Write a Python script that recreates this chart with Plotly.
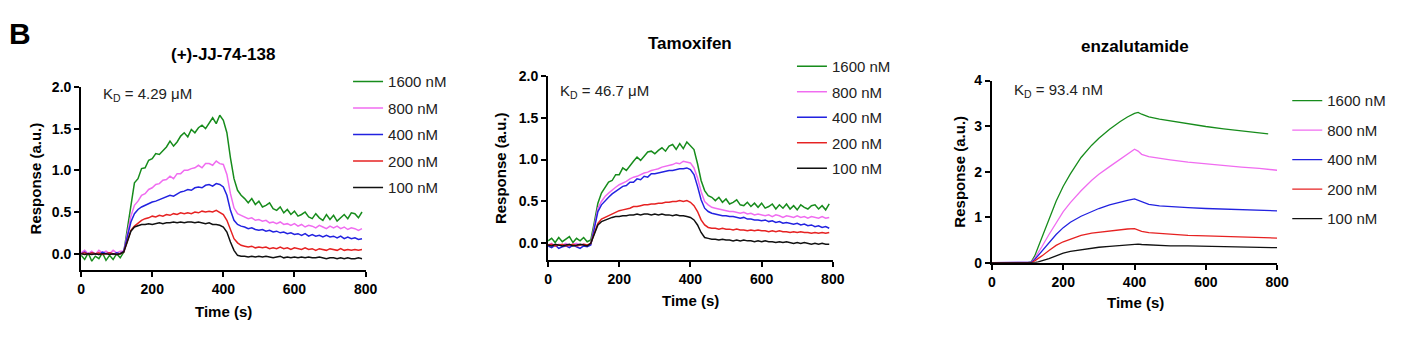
import plotly.graph_objects as go

# ---------------- data ----------------
time_noisy = list(range(0, 800, 10))          # s, panels 1 & 2
time_enza = [0, 100, 110, 120, 130, 140, 160, 180, 200, 220, 250, 280, 300, 330, 360,
             380, 400, 410, 420, 440, 470, 500, 550, 600, 650, 700, 750, 775, 800]

concs = ["1600 nM", "800 nM", "400 nM", "200 nM", "100 nM"]
colors = ["#178c1c", "#f06cf0", "#2222e0", "#e62222", "#111111"]

titles = ["(+)-JJ-74-138", "Tamoxifen", "enzalutamide"]
kd_labels = ["K<sub>D</sub> = 4.29 \u03bcM", "K<sub>D</sub> = 46.7 \u03bcM", "K<sub>D</sub> = 93.4 nM"]

# (+)-JJ-74-138
jj_1600 = [-0.02, -0.07, 0.01, -0.09, -0.03, -0.06, 0.01, -0.08, -0.02, -0.07,
           0.00, -0.05, 0.02, 0.30, 0.62, 0.85, 0.90, 1.02, 1.03, 1.12,
           1.14, 1.20, 1.19, 1.24, 1.28, 1.35, 1.29, 1.34, 1.41, 1.45,
           1.40, 1.49, 1.45, 1.51, 1.54, 1.50, 1.56, 1.63, 1.56, 1.66,
           1.60, 1.45, 1.15, 0.90, 0.76, 0.70, 0.66, 0.61, 0.66, 0.59,
           0.63, 0.56, 0.58, 0.61, 0.54, 0.52, 0.56, 0.49, 0.53, 0.47,
           0.51, 0.45, 0.47, 0.50, 0.44, 0.42, 0.48, 0.43, 0.40, 0.47,
           0.41, 0.46, 0.39, 0.43, 0.47, 0.42, 0.49, 0.48, 0.43, 0.50]
jj_800 = [0.01, 0.04, 0.00, 0.03, -0.01, 0.04, 0.01, 0.03, 0.00, 0.04,
          0.01, 0.03, 0.03, 0.22, 0.45, 0.58, 0.63, 0.70, 0.72, 0.77,
          0.79, 0.83, 0.84, 0.88, 0.89, 0.93, 0.90, 0.96, 0.96, 1.00,
          1.00, 1.02, 1.03, 1.06, 1.03, 1.08, 1.08, 1.06, 1.11, 1.08,
          1.07, 0.95, 0.72, 0.55, 0.48, 0.46, 0.44, 0.42, 0.43, 0.40,
          0.41, 0.39, 0.40, 0.37, 0.38, 0.36, 0.38, 0.35, 0.36, 0.34,
          0.36, 0.33, 0.35, 0.32, 0.34, 0.33, 0.31, 0.34, 0.32, 0.30,
          0.33, 0.31, 0.33, 0.30, 0.32, 0.29, 0.31, 0.30, 0.28, 0.30]
jj_400 = [0.00, 0.02, -0.01, 0.01, 0.00, -0.01, 0.02, 0.00, 0.01, -0.01,
          0.01, 0.00, 0.03, 0.20, 0.38, 0.48, 0.53, 0.56, 0.58, 0.60,
          0.62, 0.63, 0.65, 0.66, 0.68, 0.70, 0.69, 0.72, 0.74, 0.75,
          0.77, 0.76, 0.79, 0.80, 0.79, 0.82, 0.83, 0.81, 0.84, 0.83,
          0.80, 0.70, 0.52, 0.40, 0.35, 0.33, 0.32, 0.30, 0.31, 0.29,
          0.28, 0.29, 0.27, 0.28, 0.26, 0.27, 0.25, 0.26, 0.24, 0.25,
          0.23, 0.24, 0.22, 0.24, 0.21, 0.23, 0.21, 0.22, 0.20, 0.22,
          0.20, 0.21, 0.19, 0.21, 0.18, 0.20, 0.18, 0.19, 0.17, 0.18]
jj_200 = [0.00, 0.01, -0.01, 0.01, 0.00, 0.01, -0.01, 0.00, 0.01, 0.00,
          -0.01, 0.00, 0.02, 0.15, 0.28, 0.33, 0.37, 0.40, 0.42, 0.43,
          0.45, 0.44, 0.46, 0.45, 0.47, 0.46, 0.48, 0.47, 0.49, 0.48,
          0.49, 0.48, 0.50, 0.49, 0.51, 0.50, 0.51, 0.50, 0.52, 0.50,
          0.47, 0.40, 0.28, 0.18, 0.13, 0.10, 0.09, 0.08, 0.09, 0.07,
          0.08, 0.07, 0.08, 0.06, 0.07, 0.06, 0.08, 0.06, 0.07, 0.05,
          0.07, 0.06, 0.05, 0.07, 0.05, 0.06, 0.04, 0.06, 0.05, 0.04,
          0.06, 0.05, 0.04, 0.06, 0.04, 0.05, 0.04, 0.05, 0.04, 0.05]
jj_100 = [0.00, -0.01, 0.00, -0.01, 0.00, -0.01, 0.00, 0.00, -0.01, 0.00,
          -0.01, 0.00, 0.02, 0.15, 0.27, 0.32, 0.34, 0.35, 0.35, 0.36,
          0.35, 0.36, 0.37, 0.36, 0.37, 0.37, 0.38, 0.37, 0.38, 0.37,
          0.38, 0.38, 0.37, 0.38, 0.37, 0.36, 0.37, 0.35, 0.35, 0.34,
          0.32, 0.26, 0.14, 0.04, -0.02, -0.03, -0.03, -0.04, -0.03, -0.04,
          -0.03, -0.04, -0.03, -0.04, -0.05, -0.04, -0.03, -0.05, -0.04, -0.05,
          -0.04, -0.05, -0.04, -0.05, -0.04, -0.05, -0.05, -0.04, -0.05, -0.06,
          -0.05, -0.05, -0.06, -0.05, -0.06, -0.05, -0.06, -0.06, -0.05, -0.06]

# Tamoxifen
tam_1600 = [0.03, 0.06, 0.01, 0.07, 0.02, 0.05, 0.08, 0.01, 0.06, 0.03,
            0.07, 0.02, 0.04, 0.25, 0.48, 0.60, 0.66, 0.73, 0.75, 0.82,
            0.82, 0.90, 0.87, 0.93, 0.98, 1.03, 0.99, 1.04, 1.09, 1.10,
            1.07, 1.11, 1.14, 1.10, 1.16, 1.18, 1.12, 1.19, 1.13, 1.21,
            1.16, 1.12, 0.95, 0.75, 0.63, 0.57, 0.55, 0.51, 0.55, 0.49,
            0.53, 0.47, 0.49, 0.52, 0.46, 0.45, 0.49, 0.44, 0.48, 0.43,
            0.48, 0.42, 0.44, 0.47, 0.41, 0.46, 0.42, 0.47, 0.41, 0.45,
            0.40, 0.46, 0.43, 0.41, 0.45, 0.46, 0.41, 0.45, 0.40, 0.47]
tam_800 = [-0.02, 0.00, -0.03, -0.01, -0.02, 0.00, -0.03, -0.01, 0.00, -0.02,
           -0.01, -0.02, -0.01, 0.20, 0.42, 0.50, 0.56, 0.60, 0.64, 0.67,
           0.70, 0.72, 0.74, 0.77, 0.79, 0.80, 0.82, 0.84, 0.85, 0.87,
           0.88, 0.89, 0.91, 0.92, 0.93, 0.94, 0.96, 0.95, 0.98, 0.97,
           0.96, 0.90, 0.78, 0.62, 0.50, 0.46, 0.43, 0.42, 0.41, 0.40,
           0.39, 0.38, 0.38, 0.37, 0.36, 0.37, 0.35, 0.36, 0.34, 0.35,
           0.34, 0.33, 0.34, 0.32, 0.34, 0.33, 0.31, 0.33, 0.32, 0.31,
           0.33, 0.31, 0.32, 0.30, 0.32, 0.31, 0.30, 0.32, 0.30, 0.31]
tam_400 = [-0.03, -0.05, -0.02, -0.06, -0.04, -0.03, -0.05, -0.02, -0.04, -0.06,
           -0.03, -0.04, -0.02, 0.18, 0.38, 0.46, 0.51, 0.55, 0.59, 0.62,
           0.65, 0.68, 0.69, 0.73, 0.73, 0.77, 0.76, 0.80, 0.79, 0.83,
           0.83, 0.84, 0.85, 0.86, 0.87, 0.87, 0.88, 0.89, 0.89, 0.90,
           0.88, 0.82, 0.68, 0.52, 0.42, 0.38, 0.36, 0.35, 0.34, 0.33,
           0.33, 0.32, 0.32, 0.31, 0.30, 0.31, 0.29, 0.29, 0.28, 0.28,
           0.27, 0.28, 0.26, 0.27, 0.25, 0.26, 0.24, 0.25, 0.24, 0.23,
           0.24, 0.22, 0.23, 0.21, 0.22, 0.20, 0.21, 0.19, 0.20, 0.18]
tam_200 = [-0.02, -0.01, -0.03, -0.02, -0.01, -0.03, -0.02, -0.01, -0.03, -0.02,
           -0.01, -0.02, 0.00, 0.12, 0.24, 0.29, 0.31, 0.33, 0.35, 0.37,
           0.39, 0.40, 0.41, 0.42, 0.44, 0.44, 0.45, 0.46, 0.46, 0.47,
           0.47, 0.48, 0.48, 0.49, 0.49, 0.50, 0.50, 0.51, 0.50, 0.51,
           0.49, 0.45, 0.38, 0.28, 0.22, 0.19, 0.18, 0.18, 0.17, 0.18,
           0.17, 0.17, 0.16, 0.17, 0.16, 0.16, 0.15, 0.16, 0.15, 0.16,
           0.15, 0.15, 0.14, 0.15, 0.14, 0.15, 0.14, 0.14, 0.13, 0.14,
           0.13, 0.14, 0.13, 0.13, 0.12, 0.13, 0.12, 0.13, 0.12, 0.13]
tam_100 = [-0.02, -0.03, -0.01, -0.02, -0.03, -0.02, -0.01, -0.03, -0.02, -0.01,
           -0.02, -0.03, 0.00, 0.12, 0.22, 0.26, 0.28, 0.30, 0.31, 0.32,
           0.32, 0.33, 0.33, 0.34, 0.34, 0.35, 0.34, 0.35, 0.35, 0.34,
           0.35, 0.34, 0.35, 0.34, 0.34, 0.33, 0.34, 0.33, 0.33, 0.32,
           0.31, 0.28, 0.22, 0.13, 0.07, 0.06, 0.05, 0.05, 0.04, 0.05,
           0.04, 0.04, 0.03, 0.04, 0.03, 0.04, 0.03, 0.03, 0.02, 0.03,
           0.02, 0.03, 0.02, 0.02, 0.01, 0.02, 0.01, 0.02, 0.01, 0.00,
           0.01, 0.00, 0.01, 0.00, -0.01, 0.00, -0.01, 0.00, -0.01, -0.01]

# enzalutamide
enz_1600 = [0, 0, 0.02, 0.15, 0.35, 0.55, 0.97, 1.35, 1.68, 1.95, 2.31, 2.58, 2.73, 2.93, 3.10,
            3.20, 3.28, 3.30, 3.26, 3.20, 3.15, 3.11, 3.05, 2.99, 2.94, 2.90, 2.86, 2.83, None]
enz_800 = [0, 0, 0.01, 0.10, 0.22, 0.35, 0.62, 0.88, 1.12, 1.32, 1.58, 1.81, 1.94, 2.11, 2.28,
           2.39, 2.49, 2.45, 2.38, 2.33, 2.29, 2.26, 2.21, 2.17, 2.14, 2.10, 2.07, 2.05, 2.03]
enz_400 = [0, 0, 0.01, 0.07, 0.16, 0.25, 0.44, 0.62, 0.77, 0.89, 1.02, 1.13, 1.19, 1.27, 1.34,
           1.37, 1.40, 1.37, 1.33, 1.28, 1.25, 1.23, 1.21, 1.19, 1.18, 1.17, 1.15, 1.15, 1.14]
enz_200 = [0, 0, 0, 0.04, 0.09, 0.15, 0.27, 0.38, 0.46, 0.52, 0.60, 0.65, 0.67, 0.70, 0.73,
           0.74, 0.75, 0.72, 0.69, 0.66, 0.64, 0.62, 0.60, 0.59, 0.58, 0.57, 0.55, 0.55, 0.54]
enz_100 = [0, 0, 0, 0, 0.02, 0.04, 0.09, 0.15, 0.21, 0.25, 0.29, 0.32, 0.34, 0.36, 0.38,
           0.40, 0.41, 0.41, 0.40, 0.39, 0.38, 0.37, 0.37, 0.36, 0.35, 0.35, 0.34, 0.34, 0.33]

panel_times = [time_noisy, time_noisy, time_enza]
panel_series = [[jj_1600, jj_800, jj_400, jj_200, jj_100],
                [tam_1600, tam_800, tam_400, tam_200, tam_100],
                [enz_1600, enz_800, enz_400, enz_200, enz_100]]
y_ranges = [[-0.2, 2.0], [-0.2, 2.0], [0, 4]]
y_ticks = [[0, 0.5, 1.0, 1.5, 2.0], [0, 0.5, 1.0, 1.5, 2.0], [0, 1, 2, 3, 4]]
y_fmt = [".1f", ".1f", "d"]

# ---------------- layout geometry (px) ----------------
W, H = 1410, 348
x_dom_px = [(78, 365.7), (550.3, 838.3), (999.3, 1287.7)]
y_dom_px = [(82.7, 275), (71, 264.3), (76, 267)]
legend_px = [(348, 60), (797, 44), (1298, 80)]
legend_gap = [4, 3, 7]
title_px = [(222, 49), (694, 37), (1144, 40)]
kd_px = [(98, 91), (560, 87), (1020, 86)]
ytitle_px = [(32, 179), (503, 167.5), (967, 171.5)]
xtitle_px = [(222, 318), (694, 307), (1144, 309)]

FONT = "Arial, Liberation Sans, sans-serif"
legend_ids = ["legend", "legend2", "legend3"]

fig = go.Figure()
for p in range(3):
    ax = "" if p == 0 else str(p + 1)
    for i, (name, col) in enumerate(zip(concs, colors)):
        fig.add_trace(go.Scatter(
            x=panel_times[p], y=panel_series[p][i], mode="lines", name=name,
            line=dict(color=col, width=1.5 if p < 2 else 1.3),
            xaxis="x" + ax, yaxis="y" + ax, legend=legend_ids[p],
            legendgroup=f"{titles[p]}-{name}", legendrank=100 * (p + 1) + i,
            showlegend=True, connectgaps=False))

axis_common = dict(showline=True, linecolor="black", linewidth=2, ticks="outside",
                   ticklen=5, tickwidth=2, tickcolor="black", showgrid=False,
                   zeroline=False,
                   tickfont=dict(family=FONT, size=14, color="black", weight="bold"))

layout = dict(width=W, height=H, margin=dict(l=0, r=0, t=0, b=0),
              paper_bgcolor="white", plot_bgcolor="white", showlegend=True)
annotations = []
for p in range(3):
    ax = "" if p == 0 else str(p + 1)
    x0, x1 = x_dom_px[p]
    yt, yb = y_dom_px[p]
    layout["xaxis" + ax] = dict(axis_common, domain=[x0 / W, x1 / W], anchor="y" + ax,
                               range=[0, 800], tickvals=[0, 200, 400, 600, 800])
    layout["yaxis" + ax] = dict(axis_common, domain=[1 - yb / H, 1 - yt / H], anchor="x" + ax,
                               range=y_ranges[p], tickvals=y_ticks[p], tickformat=y_fmt[p])
    layout[legend_ids[p]] = dict(x=legend_px[p][0] / W, y=1 - legend_px[p][1] / H,
                                 xanchor="left", yanchor="top",
                                 font=dict(family=FONT, size=15, color="#222222"),
                                 tracegroupgap=legend_gap[p], traceorder="grouped",
                                 bgcolor="rgba(0,0,0,0)", borderwidth=0, itemwidth=30)
    annotations.append(dict(text=f"<b>{titles[p]}</b>", x=title_px[p][0] / W,
                            y=1 - title_px[p][1] / H, xref="paper", yref="paper",
                            xanchor="center", yanchor="middle", showarrow=False,
                            font=dict(family=FONT, size=17, color="black")))
    annotations.append(dict(text=kd_labels[p], x=kd_px[p][0] / W, y=1 - kd_px[p][1] / H,
                            xref="paper", yref="paper", xanchor="left", yanchor="middle",
                            showarrow=False, font=dict(family=FONT, size=15, color="#222222")))
    annotations.append(dict(text="<b>Response (a.u.)</b>", x=ytitle_px[p][0] / W,
                            y=1 - ytitle_px[p][1] / H, xref="paper", yref="paper",
                            xanchor="center", yanchor="middle", textangle=-90,
                            showarrow=False, font=dict(family=FONT, size=15, color="black")))
    annotations.append(dict(text="<b>Time (s)</b>", x=xtitle_px[p][0] / W,
                            y=1 - xtitle_px[p][1] / H, xref="paper", yref="paper",
                            xanchor="center", yanchor="middle", showarrow=False,
                            font=dict(family=FONT, size=15, color="black")))
annotations.append(dict(text="<b>B</b>", x=3 / W, y=1 - 27 / H, xref="paper", yref="paper",
                        xanchor="left", yanchor="middle", showarrow=False,
                        font=dict(family=FONT, size=30, color="black")))
layout["annotations"] = annotations
fig.update_layout(**layout)
fig.write_html("out.html")
